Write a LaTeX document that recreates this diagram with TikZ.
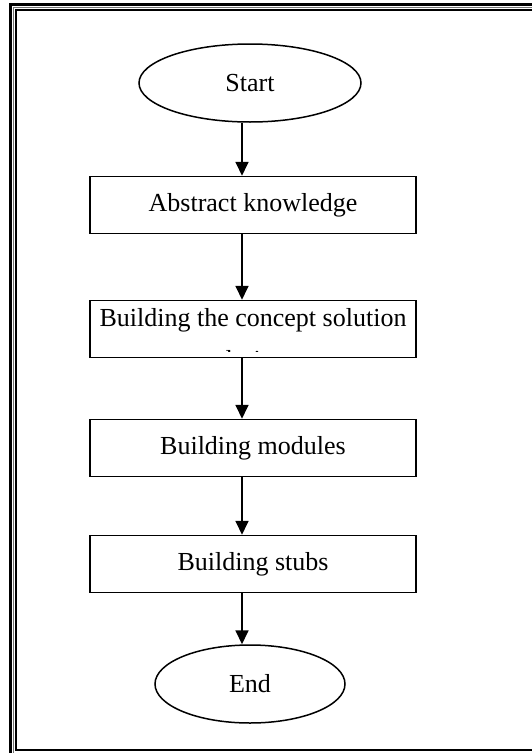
\documentclass[tikz,border=0pt]{standalone}
\usepackage{fontspec}
\setmainfont{Liberation Serif}
\usetikzlibrary{shapes.geometric,arrows.meta}

\begin{document}
\begin{tikzpicture}[
            x=1pt, y=-1pt,
            terminal/.style={
                ellipse,
                draw=black,
                line width=1.5pt,
                minimum width=190pt,
                minimum height=78pt,
                font=\fontsize{26}{31}\selectfont
            },
            process/.style={
                rectangle,
                draw=black,
                line width=1.5pt,
                minimum width=326pt,
                minimum height=57pt,
                align=center,
                font=\fontsize{26}{31}\selectfont
            },
            label/.style={
                draw=none,
                inner sep=0pt,
                align=center,
                font=\fontsize{26}{31}\selectfont
            },
            arrow/.style={-{Triangle[width=13pt,length=14pt]}, line width=1.8pt}
        ]

        % Page
        \useasboundingbox (0,0) rectangle (532,753);

        % Page border (thick-thin-thick), runs off right and bottom
        \begin{scope}
        \clip (0,0) rectangle (532,753);
        \draw[line width=3pt] (10.5,4) rectangle (547,757);
        \draw[line width=0.8pt, black!55] (13,7) rectangle (543,753);
        \draw[line width=2.5pt] (16,10) rectangle (540,750);
        \end{scope}

        % Line the arrows run on
        \coordinate (col) at (242,0);

        % Flow steps
        \node[terminal, minimum width=222pt] (start) at (250,83) {Start};
        \node[process] (abstr) at (253,205) {Abstract knowledge};
        \node[process] (concept) at (253,329) {};
        \node[process] (modules) at (253,448) {Building modules};
        \node[process] (stubs) at (253,564) {Building stubs};
        \node[terminal] (stop) at (250,684) {End};

        % Text of the concept box overflows, second line cut off
        \node[label, anchor=base] (conceptl1) at (253,326) {Building the concept solution};
        \begin{scope}
        \clip (concept.north west) rectangle ([yshift=7pt]concept.south east);
        \node[label, anchor=base] (conceptl2) at (253,368) {design};
        \end{scope}

        % Connecting arrows
        \draw[arrow] (start.south -| col) -- (abstr.north -| col);
        \draw[arrow] (abstr.south -| col) -- (concept.north -| col);
        \draw[arrow] (concept.south -| col) -- (modules.north -| col);
        \draw[arrow] (modules.south -| col) -- (stubs.north -| col);
        \draw[arrow] (stubs.south -| col) -- (stop.north -| col);

        \end{tikzpicture}
\end{document}
